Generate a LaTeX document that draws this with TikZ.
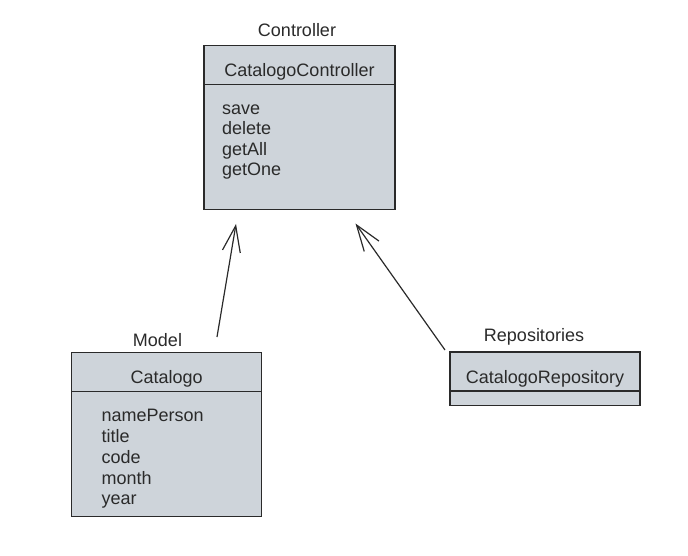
\documentclass[tikz,border=0pt]{standalone}
\usepackage{fontspec}
\setmainfont{Liberation Sans}
\usetikzlibrary{arrows.meta, positioning}
\definecolor{boxfill}{HTML}{CED4DA}
\definecolor{ink}{HTML}{2A2A2A}
\tikzset{
every node/.style={font=\fontsize{18pt}{21pt}\selectfont, text=ink},
classhead/.style={draw=ink, fill=boxfill, line width=1.3pt, minimum width=190pt,
  text height=31pt, text depth=8pt, inner ysep=0pt, outer sep=0pt, anchor=base},
classbody/.style={draw=ink, fill=boxfill, line width=1.3pt, minimum width=190pt,
  inner sep=0pt, outer sep=0pt},
member/.style={anchor=base west, inner sep=0pt},
layer/.style={anchor=base, inner sep=0pt},
dep/.style={draw=ink, line width=1.2pt, -{Straight Barb[length=26pt, width=18pt]}},
}

\begin{document}
\begin{tikzpicture}[x=1pt, y=-1pt]
\useasboundingbox (0,0) rectangle (688,556);

    % controller
    \node[layer] (ctrllabel) at (297,37) {Controller};
    \node[classhead, minimum width=191pt] (ctrl) at (299.5,76.7) {CatalogoController};
    \node[classbody, minimum width=191pt, minimum height=125pt, below=0pt of ctrl] (ctrlbody) {};
    \node[member] (save) at (222,114.5) {save};
    \node[member] (delete) at (222,135) {delete};
    \node[member] (getall) at (222,155.5) {getAll};
    \node[member] (getone) at (222,176) {getOne};

    % model
    \node[layer] (modellabel) at (157.5,346.7) {Model};
    \node[classhead] (catalogo) at (166.7,383.3) {Catalogo};
    \node[classbody, minimum height=125pt, below=0pt of catalogo] (catalogobody) {};
    \node[member] (nameperson) at (101.5,421.7) {namePerson};
    \node[member] (title) at (101.5,442.5) {title};
    \node[member] (code) at (101.5,463.3) {code};
    \node[member] (month) at (101.5,484) {month};
    \node[member] (year) at (101.5,504.8) {year};

    % repositories
    \node[layer] (repolabel) at (534,341.7) {Repositories};
    \node[classhead] (repo) at (545,383) {CatalogoRepository};
    \node[classbody, minimum height=14.5pt, below=0pt of repo] (repobody) {};

    % dependencies
    \coordinate (modeltail) at (217,337);
    \coordinate (modelhead) at (236,224);
    \coordinate (repotail) at (445,350);
    \coordinate (repohead) at (355.5,223.5);
    \draw[dep] (modeltail) -- (modelhead);
    \draw[dep] (repotail) -- (repohead);
\end{tikzpicture}
\end{document}
